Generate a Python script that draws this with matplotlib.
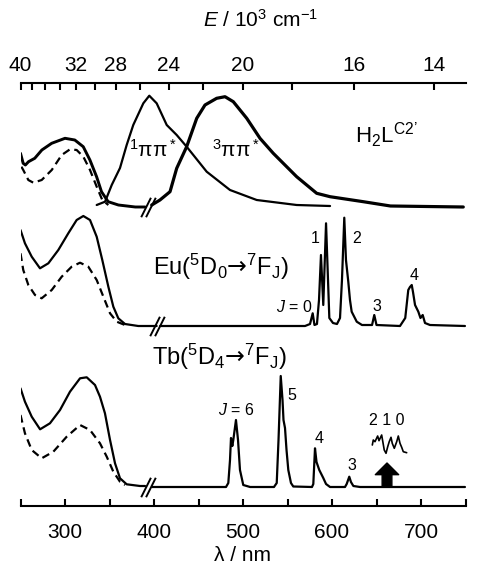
import numpy as np
import matplotlib
matplotlib.use('Agg')
import matplotlib.pyplot as plt
from matplotlib.path import Path

plt.rcParams['font.family'] = ['Liberation Sans', 'DejaVu Sans']
plt.rcParams['mathtext.fontset'] = 'custom'
plt.rcParams['mathtext.rm'] = 'Liberation Sans'
plt.rcParams['mathtext.it'] = 'Liberation Sans:italic'
plt.rcParams['mathtext.bf'] = 'Liberation Sans:bold'
plt.rcParams['mathtext.sf'] = 'DejaVu Sans'

# === Data (wavelength in nm, intensity in arbitrary units above each baseline) ===
# H2L^C2' : absorption (solid / dashed), singlet and triplet emission
h2l_abs_wl = [250, 253, 255.5, 259, 266, 274, 285, 300, 311, 320.5, 328, 335.5,
              341, 348.5, 360, 379, 390]
h2l_abs = [53.7, 43.7, 42, 45.3, 48.7, 57, 63.7, 68.7, 67, 60.3, 47, 30.3,
           15.3, 5.3, 2, 0, 0]
h2l_abs2_wl = [251, 253.1, 258.8, 264.4, 273.8, 285.1, 296.3, 305.6, 313.1, 320.6,
               328.1, 335.6, 341.9, 348.7]
h2l_abs2 = [40.3, 37, 27, 24.3, 27, 37, 52, 57.7, 57, 50.3,
            37, 20.3, 7, 2]
h2l_s1_wl = [335.6, 345, 352.5, 361.8, 369.3, 376.7, 388, 394.7, 403, 414.3,
             425.5, 436.7, 459.2, 485.4, 515.4, 560.3, 597.8]
h2l_s1 = [2, 5.3, 22, 39, 62, 82, 103.7, 111.3, 103.7, 82,
          72, 60.3, 35.3, 17, 7, 2, 1]
h2l_t1_wl = [397.4, 406.7, 418, 425.5, 436.7, 448, 457.3, 470.4, 479.8, 489.1,
             504.2, 519.1, 534, 560.3, 582.8, 597.8, 635.2, 665.7, 747.5]
h2l_t1 = [2, 7, 15.3, 38.7, 60.3, 88.7, 102, 108.7, 110.3, 105.3,
          88.7, 68.7, 53.7, 30.3, 13.7, 10.3, 5.3, 1, 0]

# Eu complex
eu_abs_wl = [250, 255, 262.6, 271.9, 281.3, 292.5, 303.7, 313.1, 320.6, 328.1,
             335.6, 341.9, 348.7, 354.3, 359.9, 367.4, 382.3, 403]
eu_abs = [96, 82.7, 69.3, 57.7, 62.7, 76, 92.7, 106, 110, 106,
          89.3, 66, 39.3, 19.3, 7.7, 2, 0, 0]
eu_abs2_wl = [250, 253.1, 258.8, 266.3, 273.8, 285.1, 296.3, 307.5, 316.9, 326.2,
              335.6, 343.1, 350.6, 358.1, 367.4]
eu_abs2 = [72.7, 56, 41, 31, 27.7, 36, 49.3, 59.3, 63.3, 59.3,
           46, 29.3, 12.7, 4.3, 1]
eu_em_wl = [406.9, 569.7, 575.3, 578.3, 580.3, 583.1, 585.4, 587.6, 590.2, 593.3,
            597, 601.1, 605.6, 609, 611.2, 613.8, 615.7, 618.3, 620.2, 622.1,
            627.8, 633.7, 645, 647.5, 650, 676.4, 682.3, 685.7, 687.6, 689.6,
            691, 693.3, 697, 699.4, 701.9, 704.5, 710.1, 749.4]
eu_em = [0, 0, 2, 12.7, 1, 2, 26, 71, 21, 102.7,
         8, 3, 2, 8, 46, 108.3, 66, 44.3, 26, 14.3,
         4.3, 1, 1, 11, 1, 0, 8, 36, 39, 41,
         34, 21, 14.3, 8, 11, 3, 1, 0]

# Tb complex
tb_abs_wl = [250, 255, 262.6, 272, 283.1, 294.4, 305.6, 316.9, 324.4, 333.7,
             339.3, 344.9, 350.6, 356.2, 361.8, 369.3, 384.3, 390]
tb_abs = [98.7, 85.3, 70.3, 57.7, 63.7, 77, 95.3, 108.7, 109.7, 102,
          90.3, 73.7, 47, 23.7, 8.7, 2.7, 1, 1]
tb_abs2_wl = [250, 255, 262.6, 273.8, 286.9, 301.9, 316.9, 328.1, 339.3, 346.9,
              354.3, 361.8, 367.4]
tb_abs2 = [72, 53.7, 37, 28.7, 35.3, 50.3, 62, 57, 43.7, 30.3,
           15.3, 5.3, 2]
tb_em_wl = [397.8, 480.9, 483.5, 485.4, 486.5, 488, 489.1, 492.1, 494.4, 496.6,
            500.3, 508, 534.8, 537.9, 539.9, 542.4, 544.4, 545.5, 547.2, 548.9,
            550.9, 553.9, 556.5, 577.5, 579, 580.9, 582.6, 585.7, 590.2, 593.3,
            597.8, 614.6, 616.5, 619.4, 621.3, 624, 631.5, 749.4]
tb_em = [0, 0, 4, 27, 49, 41, 47, 67, 47, 17,
         2, 0, 0, 4, 47, 111, 87, 67, 59, 37,
         17, 4, 0.5, 0, 3, 38.7, 25, 17, 9, 3,
         0, 0, 3, 10.3, 5, 1, 0, 0]
# magnified 5D4 -> 7F2,1,0 region (inset trace)
tb_zoom_wl = [645.3, 646.4, 648.3, 651.3, 652.8, 655.8, 658.7, 660.7, 662.6, 664.3,
              666.3, 667.7, 670, 672.7, 674.5, 676.4, 678.3, 680.1, 683.9]
tb_zoom = [42, 47, 45.3, 51, 46.3, 52, 37, 33.7, 40.3, 45.3,
           49.7, 43.7, 38.7, 45.3, 51, 43.7, 39.7, 35.3, 34.3]

# top axis: energy in 10^3 cm^-1
E_ticks = [40, 38, 36, 34, 32, 30, 28, 26, 24, 22, 20, 18, 16, 14]
E_labeled = [40, 32, 28, 24, 20, 16, 14]

# === Layout ===
OFF_H2L, OFF_EU, OFF_TB = 299, 180, 19
BREAKS = [(393.6, OFF_H2L), (403, OFF_EU), (393.6, OFF_TB)]
LW = 1.6

fig = plt.figure(figsize=(4.84, 5.73), dpi=100)
ax = fig.add_axes([20.5 / 484, 1 - 506 / 573, 445 / 484, 423 / 573])
ax.set_xlim(250, 750)
ax.set_ylim(0, 423)


def trace(wl, y, off, **kw):
    kw.setdefault('color', 'black')
    kw.setdefault('lw', LW)
    ax.plot(wl, np.asarray(y) + off, solid_joinstyle='round',
            solid_capstyle='round', **kw)


dash = dict(ls=(0, (3.5, 2.2)))
trace(h2l_abs_wl, h2l_abs, OFF_H2L, lw=2.1)
trace(h2l_abs2_wl, h2l_abs2, OFF_H2L, **dash)
trace(h2l_s1_wl, h2l_s1, OFF_H2L)
trace(h2l_t1_wl, h2l_t1, OFF_H2L, lw=2.3)

trace(eu_abs_wl, eu_abs, OFF_EU)
trace(eu_abs2_wl, eu_abs2, OFF_EU, **dash)
trace(eu_em_wl, eu_em, OFF_EU)

trace(tb_abs_wl, tb_abs, OFF_TB)
trace(tb_abs2_wl, tb_abs2, OFF_TB, **dash)
trace(tb_em_wl, tb_em, OFF_TB)
trace(tb_zoom_wl, tb_zoom, OFF_TB, lw=1.2)

# axis-break marks "//"
brk = Path([(-3, -4), (1, 4), (-1, -4), (3, 4)],
           [Path.MOVETO, Path.LINETO, Path.MOVETO, Path.LINETO])
for bx, by in BREAKS:
    ax.plot([bx], [by], marker=brk, markersize=14, color='black',
            markeredgewidth=1.4, zorder=5)

# arrow below the magnified Tb region
ax.annotate('', xy=(661.8, OFF_TB + 24), xytext=(661.8, OFF_TB + 1),
            arrowprops=dict(arrowstyle='simple,head_length=0.6,head_width=1.2,tail_width=0.5',
                            fc='black', ec='black', mutation_scale=14,
                            shrinkA=0, shrinkB=0))

# labels
big, small = 17, 11.5
arrow = '$\\mathsf{\u2192}$'
ax.text(398.3, 356, r'$^1$ππ$^*$', fontsize=15, ha='center', va='center')
ax.text(492.1, 356, r'$^3$ππ$^*$', fontsize=15, ha='center', va='center')
ax.text(626, 371, 'H$_2$L$^{\\mathrm{C2\u2019}}$', fontsize=16, ha='left', va='center')
ax.text(398.9, 239, 'Eu($^5$D$_0$' + arrow + '$^7$F$_{\\mathrm{J}}$)', fontsize=big,
        ha='left', va='center')
ax.text(397.8, 149, 'Tb($^5$D$_4$' + arrow + '$^7$F$_{\\mathrm{J}}$)', fontsize=big,
        ha='left', va='center')

ax.text(580.9, 268, '1', fontsize=small, ha='center', va='center')
ax.text(628.1, 268, '2', fontsize=small, ha='center', va='center')
ax.text(558.1, 199.3, r'$J$ = 0', fontsize=small, ha='center', va='center')
ax.text(650.2, 199.3, '3', fontsize=small, ha='center', va='center')
ax.text(692.5, 231, '4', fontsize=small, ha='center', va='center')

ax.text(491.9, 96, r'$J$ = 6', fontsize=small, ha='center', va='center')
ax.text(555.4, 111, '5', fontsize=small, ha='center', va='center')
ax.text(585.4, 67.7, '4', fontsize=small, ha='center', va='center')
ax.text(622.1, 41, '3', fontsize=small, ha='center', va='center')
ax.text(661.5, 85.3, '2 1 0', fontsize=small, ha='center', va='center')

# bottom axis
for s in ['left', 'right', 'top']:
    ax.spines[s].set_visible(False)
ax.spines['bottom'].set_linewidth(1.5)
ax.set_yticks([])
ax.set_xticks(np.arange(250, 751, 50))
ax.set_xticklabels(['' if v % 100 else str(v) for v in range(250, 751, 50)])
ax.tick_params(axis='x', direction='in', length=5, width=1.5, labelsize=15, pad=12)
ax.set_xlabel('λ / nm', fontsize=15, labelpad=3)

# top axis (energy)
ax2 = ax.twiny()
ax2.set_xlim(250, 750)
for s in ['left', 'right', 'bottom']:
    ax2.spines[s].set_visible(False)
ax2.spines['top'].set_linewidth(1.5)
ax2.set_xticks([1e4 / e for e in E_ticks])
ax2.set_xticklabels([str(e) if e in E_labeled else '' for e in E_ticks])
ax2.tick_params(axis='x', direction='in', length=5, width=1.5, labelsize=15, pad=6)
fig.text(261 / 484, 1 - 20 / 573, r'$E$ / 10$^3$ cm$^{-1}$', fontsize=15,
         ha='center', va='center')

plt.savefig('out.png', dpi=100)
plt.close(fig)
